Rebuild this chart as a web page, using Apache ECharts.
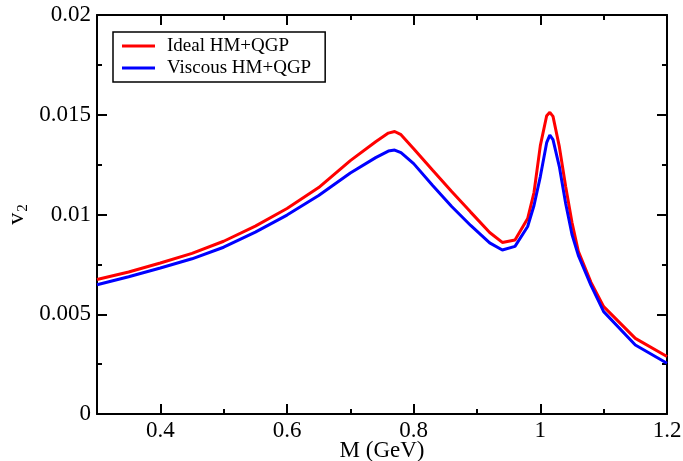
<!DOCTYPE html>
<html>
<head>
<meta charset="utf-8">
<script src="https://cdn.jsdelivr.net/npm/echarts@6/dist/echarts.min.js"></script>
<style>html,body{margin:0;padding:0;background:#fff;}#c{width:683px;height:461px;}</style>
</head>
<body>
<div id="c"></div>
<script>
const M = [0.30,0.35,0.40,0.45,0.50,0.55,0.60,0.65,0.70,0.74,0.76,0.77,0.78,0.80,0.83,0.86,0.89,0.92,0.94,0.96,0.98,0.99,1.00,1.01,1.015,1.02,1.03,1.04,1.05,1.06,1.08,1.10,1.15,1.20];
const ideal = [0.00674,0.00712,0.00757,0.00805,0.00866,0.00942,0.01030,0.01135,0.01270,0.01365,0.01408,0.01416,0.01400,0.01330,0.01222,0.01115,0.01012,0.00910,0.00860,0.00872,0.00980,0.01110,0.01345,0.01495,0.01512,0.01492,0.01340,0.01140,0.00960,0.00815,0.00660,0.00538,0.00379,0.00288];
const viscous = [0.00648,0.00688,0.00732,0.00778,0.00836,0.00912,0.00997,0.01095,0.01208,0.01285,0.01318,0.01323,0.01310,0.01255,0.01145,0.01040,0.00945,0.00858,0.00822,0.00840,0.00940,0.01045,0.01190,0.01360,0.01398,0.01375,0.01240,0.01055,0.00900,0.00795,0.00645,0.00513,0.00346,0.00254];
const xMajor = [0.4,0.6,0.8,1.0,1.2];
const xMinor = [0.5,0.7,0.9,1.1];
const seriesNames = ['Ideal HM+QGP','Viscous HM+QGP'];

const FONT = 'Liberation Serif';
const black = '#000';
function xAx(pos, vals, len, showLine, showLabel){
  return {
    type:'value', position:pos, min:0.3, max:1.2,
    axisLine:{show:showLine, lineStyle:{color:black,width:2}},
    axisTick:{show:true, inside:true, length:len, customValues:vals, lineStyle:{color:black,width:2}},
    axisLabel:{show:showLabel, customValues:xMajor, margin:5, color:black, fontFamily:FONT, fontSize:23,
      formatter:v=>(Math.abs(v-1)<1e-9?'1':String(+v.toFixed(1)))},
    splitLine:{show:false}
  };
}
function yAx(pos, showLabel){
  return {
    type:'value', position:pos, min:0, max:0.02, interval:0.005,
    axisLine:{show:true, lineStyle:{color:black,width:2}},
    axisTick:{show:true, inside:true, length:10, lineStyle:{color:black,width:2}},
    minorTick:{show:true, splitNumber:2, length:5, lineStyle:{color:black,width:2}},
    axisLabel:{show:showLabel, margin:6, color:black, fontFamily:FONT, fontSize:23,
      formatter:v=>(v===0?'0':String(+v.toFixed(3)))},
    splitLine:{show:false}, minorSplitLine:{show:false}
  };
}
const xAxes = [xAx('bottom', xMajor, 10, true, true), xAx('bottom', xMinor, 5, false, false),
  xAx('top', xMajor, 10, true, false), xAx('top', xMinor, 5, false, false)];
xAxes[0].name = 'M (GeV)';
xAxes[0].nameLocation = 'middle';
xAxes[0].nameGap = 25;
xAxes[0].nameMoveOverlap = false;
xAxes[0].nameTextStyle = {color:black, fontFamily:FONT, fontSize:23};
const yAxes = [yAx('left', true), yAx('right', false)];
yAxes[0].name = '{v|v}{s|2}';
yAxes[0].nameLocation = 'middle';
yAxes[0].nameGap = 66;
yAxes[0].nameMoveOverlap = false;
yAxes[0].nameRotate = 90;
yAxes[0].nameTextStyle = {color:black, fontFamily:FONT, rich:{
  v:{fontFamily:FONT, fontSize:24, color:black},
  s:{fontFamily:FONT, fontSize:15, color:black, padding:[14,0,0,1]}
}};

const chart = echarts.init(document.getElementById('c'), null, {renderer:'canvas'});
chart.setOption({
  backgroundColor:'#fff',
  animation:false,
  grid:{left:97, right:16, top:15, bottom:47, containLabel:false, outerBoundsMode:'none'},
  xAxis:xAxes,
  yAxis:yAxes,
  legend:{
    orient:'vertical', left:113, top:32,
    data:seriesNames,
    icon:'rect', itemWidth:33, itemHeight:3, itemGap:2,
    borderColor:black, borderWidth:1.5, padding:[4,14,4,9],
    textStyle:{fontFamily:FONT, fontSize:19, color:black, lineHeight:20, padding:[0,0,0,7]}
  },
  series:[
    {name:seriesNames[0], type:'line', showSymbol:false, symbol:'none', color:'#ff0000',
     lineStyle:{width:3, color:'#ff0000'}, data:M.map((m,i)=>[m, ideal[i]])},
    {name:seriesNames[1], type:'line', showSymbol:false, symbol:'none', color:'#0000ff',
     lineStyle:{width:3, color:'#0000ff'}, data:M.map((m,i)=>[m, viscous[i]])}
  ]
});
</script>
</body>
</html>
